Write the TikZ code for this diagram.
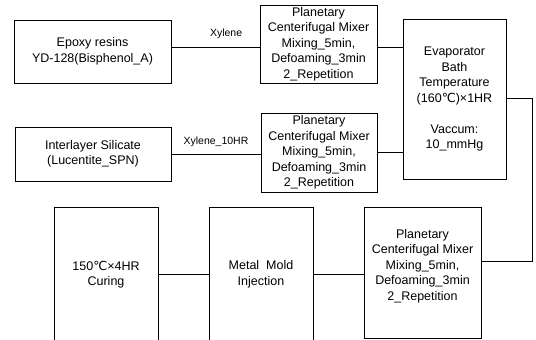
\documentclass[tikz,border=0pt]{standalone}
\usepackage{fontspec}
\setmainfont{Liberation Sans}
\newfontfamily\degfont{DejaVu Sans}
\usepackage{tikz}
\usetikzlibrary{positioning, calc}
\newcommand{\degC}{{\degfont ℃}}

\begin{document}
\begin{tikzpicture}[x=1pt, y=-1pt,
  box/.style={rectangle, draw, line width=0.7pt, align=center, inner sep=0pt,
              font=\fontsize{12.5}{15.5}\selectfont},
  link/.style={line width=0.7pt},
  lbl/.style={font=\fontsize{10.5}{12}\selectfont, inner sep=0pt}]

  \useasboundingbox[fill=white] (0,0) rectangle (536,340);

  % top row
  \node[box, minimum width=157pt, minimum height=63pt] (epoxy) at (92.5,51.5)
    {Epoxy resins\\YD-128(Bisphenol\_A)};
  \node[box, minimum width=117pt, minimum height=78pt] (mixA) at (318.5,44)
    {Planetary\\Centerifugal Mixer\\Mixing\_5min,\\Defoaming\_3min\\2\_Repetition};
  \node[box, minimum width=103pt, minimum height=160pt] (evap) at (454.5,99)
    {Evaporator\\Bath\\Temperature\\(160\degC)×1HR\\[15.5pt]Vaccum:\\10\_mmHg};

  % second row
  \node[box, minimum width=156pt, minimum height=54pt] (inter) at (93,154)
    {Interlayer Silicate\\(Lucentite\_SPN)};
  \node[box, minimum width=116pt, minimum height=79pt] (mixB) at (319,152.5)
    {Planetary\\Centerifugal Mixer\\Mixing\_5min,\\Defoaming\_3min\\2\_Repetition};

  % bottom row
  \node[box, minimum width=104pt, minimum height=135pt] (cure) at (106,274.5)
    {150\degC×4HR\\Curing};
  \node[box, minimum width=104pt, minimum height=135pt] (mold) at (261,274.5)
    {Metal~~Mold\\Injection};
  \node[box, minimum width=117pt, minimum height=131pt] (mixC) at (422.5,272.5)
    {Planetary\\Centerifugal Mixer\\Mixing\_5min,\\Defoaming\_3min\\2\_Repetition\\\mbox{}};

  \draw[link] ([yshift=4.5pt]epoxy.east) -- ([yshift=4.5pt]epoxy.east -| mixA.west)
    node[lbl, pos=0.62, above=7.5pt] (xyl) {Xylene};
  \draw[link] ([yshift=-3pt]mixA.east) -- ([yshift=-3pt]mixA.east -| evap.west);
  \draw[link] (inter.east) -- (inter.east -| mixB.west)
    node[lbl, midway, above=7pt] (xyl10) {Xylene\_10HR};
  \draw[link] (mixB.east) -- (mixB.east -| evap.west);
  \draw[link] ([yshift=1pt]evap.east) -- ++(26,0) |- ([yshift=11.5pt]mixC.east);
  \draw[link] (mold.east) -- (mold.east -| mixC.west);
  \draw[link] (cure.east) -- (cure.east -| mold.west);
\end{tikzpicture}
\end{document}
